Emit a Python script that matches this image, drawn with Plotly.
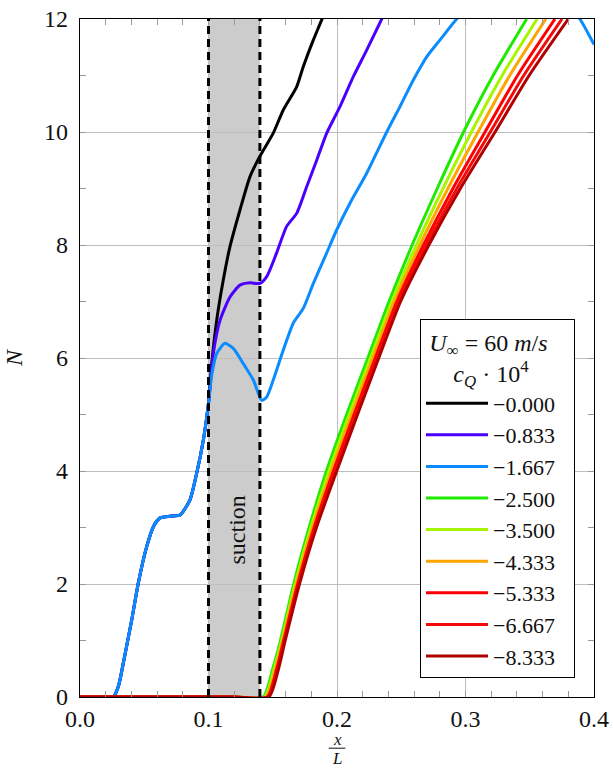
import plotly.graph_objects as go

# Shared upstream N-factor development (identical for all low-suction cases)
x_up = [0.0, 0.0150, 0.0259, 0.0300, 0.0337, 0.0402, 0.0454, 0.0519, 0.0570, 0.0623,
        0.0700, 0.0778, 0.0856, 0.0908, 0.0960, 0.1000]
n_up = [0.0, 0.0, 0.0, 0.20, 0.60, 1.36, 2.02, 2.66, 3.01, 3.17,
        3.20, 3.22, 3.49, 3.96, 4.55, 5.20]

# cQ = -0.000
x_cq0 = [0.1025, 0.1064, 0.1115, 0.1167, 0.1245, 0.1323, 0.1400, 0.1504,
         0.1582, 0.1686, 0.1738, 0.1816, 0.1880, 0.1900]
n_cq0 = [5.90, 6.67, 7.38, 7.97, 8.62, 9.21, 9.57, 9.98,
         10.39, 10.80, 11.16, 11.63, 11.98, 12.10]

# cQ = -0.833
x_cq1 = [0.1038, 0.1090, 0.1167, 0.1245, 0.1323, 0.1400, 0.1453, 0.1530,
         0.1608, 0.1686, 0.1764, 0.1842, 0.1920, 0.2023, 0.2127, 0.2231,
         0.2348, 0.2370]
n_cq1 = [6.09, 6.67, 7.08, 7.29, 7.33, 7.32, 7.44, 7.86,
         8.33, 8.56, 9.03, 9.50, 9.98, 10.45, 10.98, 11.45,
         12.00, 12.10]

# cQ = -1.667
x_cq2 = [0.1025, 0.1064, 0.1128, 0.1193, 0.1271, 0.1349, 0.1414, 0.1453,
         0.1504, 0.1582, 0.1660, 0.1738, 0.1816, 0.1920, 0.1998, 0.2101,
         0.2231, 0.2387, 0.2490, 0.2594, 0.2698, 0.2802, 0.2931, 0.3100,
         0.3400, 0.3700, 0.3890, 0.3995, 0.4000]
n_cq2 = [5.70, 6.08, 6.26, 6.17, 5.90, 5.61, 5.25, 5.31,
         5.61, 6.14, 6.62, 6.88, 7.32, 7.86, 8.27, 8.74,
         9.27, 10.00, 10.45, 10.92, 11.33, 11.63, 12.00, 12.40,
         12.70, 12.50, 12.00, 11.57, 11.55]

# Stronger suction: x/L at which each case reaches the listed N levels
n_levels = [0.0, 0.0, 0.0, 0.5, 1.0, 2.0, 3.0, 4.0, 5.0, 6.0, 7.0, 8.0, 9.0, 10.0, 11.0, 12.0]
x_cq3 = [0.0, 0.1200, 0.1425, 0.1500, 0.1560, 0.1663, 0.1783, 0.1918, 0.2075, 0.2240,
         0.2405, 0.2585, 0.2780, 0.2985, 0.3215, 0.3476]
x_cq4 = [0.0, 0.1200, 0.1436, 0.1511, 0.1569, 0.1674, 0.1797, 0.1938, 0.2096, 0.2261,
         0.2428, 0.2618, 0.2825, 0.3046, 0.3285, 0.3557]
x_cq5 = [0.0, 0.1200, 0.1446, 0.1521, 0.1577, 0.1684, 0.1809, 0.1955, 0.2114, 0.2279,
         0.2446, 0.2645, 0.2863, 0.3098, 0.3344, 0.3625]
x_cq6 = [0.0, 0.1200, 0.1456, 0.1531, 0.1585, 0.1694, 0.1822, 0.1972, 0.2133, 0.2298,
         0.2466, 0.2673, 0.2902, 0.3152, 0.3405, 0.3696]
x_cq7 = [0.0, 0.1200, 0.1463, 0.1538, 0.1591, 0.1701, 0.1831, 0.1986, 0.2147, 0.2312,
         0.2482, 0.2695, 0.2933, 0.3193, 0.3453, 0.3751]
x_cq8 = [0.0, 0.1200, 0.1470, 0.1545, 0.1597, 0.1708, 0.1840, 0.1998, 0.2160, 0.2325,
         0.2495, 0.2715, 0.2960, 0.3230, 0.3495, 0.3800]

labels = ["−0.000", "−0.833", "−1.667", "−2.500", "−3.500",
          "−4.333", "−5.333", "−6.667", "−8.333"]
colors = ["#000000", "#4B00FF", "#0A8CFF", "#1EEB00", "#A8F500",
          "#FFA500", "#FF0000", "#F50A0A", "#B00000"]

suction_region = [0.10, 0.14]

series = [
    (x_up + x_cq0, n_up + n_cq0),
    (x_up + x_cq1, n_up + n_cq1),
    (x_up + x_cq2, n_up + n_cq2),
    (x_cq3, n_levels),
    (x_cq4, n_levels),
    (x_cq5, n_levels),
    (x_cq6, n_levels),
    (x_cq7, n_levels),
    (x_cq8, n_levels),
]

FONT = "Liberation Serif"

fig = go.Figure()
for (xs, ns), lab, col in zip(series, labels, colors):
    fig.add_trace(go.Scatter(x=xs, y=ns, mode="lines", name=lab,
                             line=dict(color=col, width=3, shape="spline", smoothing=0.6)))

# suction strip and its dashed edges
fig.add_shape(type="rect", xref="x", yref="y",
              x0=suction_region[0], x1=suction_region[1], y0=0, y1=12,
              fillcolor="#CCCCCC", line=dict(width=0), layer="below")
for xv in suction_region:
    fig.add_shape(type="line", xref="x", yref="y", x0=xv, x1=xv, y0=0, y1=12,
                  line=dict(color="black", width=3, dash="8px,5px"), layer="above")

fig.add_annotation(x=sum(suction_region) / 2 + 0.002, y=2.96, xref="x", yref="y",
                   text="suction", textangle=-90, showarrow=False,
                   font=dict(family=FONT, size=24, color="#111"))

# x/L written as a stacked fraction
fig.add_annotation(x=0.2, y=-0.063, xref="x", yref="paper", yanchor="middle",
                   text="<i>x</i>", showarrow=False,
                   font=dict(family=FONT, size=17, color="#111"))
fig.add_annotation(x=0.2, y=-0.0905, xref="x", yref="paper", yanchor="middle",
                   text="<i>L</i>", showarrow=False,
                   font=dict(family=FONT, size=17, color="#111"))
fig.add_shape(type="line", xref="x", yref="paper", x0=0.1935, x1=0.2065,
              y0=-0.0755, y1=-0.0755, line=dict(color="#111", width=1))

axis_common = dict(
    showline=True, linecolor="black", linewidth=1.2, mirror="ticks",
    showgrid=True, gridcolor="#BEBEBE", gridwidth=1,
    ticks="inside", ticklen=6, tickcolor="#999999",
    zeroline=False, automargin=False,
    tickfont=dict(family=FONT, size=24, color="#111"),
)

fig.update_xaxes(range=[0, 0.4], dtick=0.1, tickformat=".1f",
                 minor=dict(dtick=0.02, ticks="inside", ticklen=6, tickcolor="#999999",
                            showgrid=False),
                 **axis_common)
fig.update_yaxes(range=[0, 12], dtick=2, ticklabelstandoff=6,
                 minor=dict(dtick=1, ticks="inside", ticklen=6, tickcolor="#999999",
                            showgrid=False),
                 title=dict(text="<i>N</i>", standoff=14,
                            font=dict(family=FONT, size=24, color="#111")),
                 **axis_common)

NB = "\u00a0"
fig.update_layout(
    width=613, height=769,
    margin=dict(l=80, r=19, t=19, b=72, autoexpand=False),
    paper_bgcolor="white", plot_bgcolor="white",
    font=dict(family=FONT, color="#111"),
    legend=dict(
        x=0.963, y=0.028, xanchor="right", yanchor="bottom",
        bgcolor="white", bordercolor="black", borderwidth=1,
        font=dict(family=FONT, size=22, color="#111"),
        itemwidth=62,
        title=dict(
            text=(NB + "<i>U</i><sub>∞</sub> = 60 <i>m</i>/<i>s</i>" + NB * 4 + "<br>"
                  + NB * 5 + "<i>c</i><sub><i>Q</i></sub> · 10<sup>4</sup>"),
            side="top center",
            font=dict(family=FONT, size=24, color="#111")),
    ),
)

fig.write_html("out.html")
